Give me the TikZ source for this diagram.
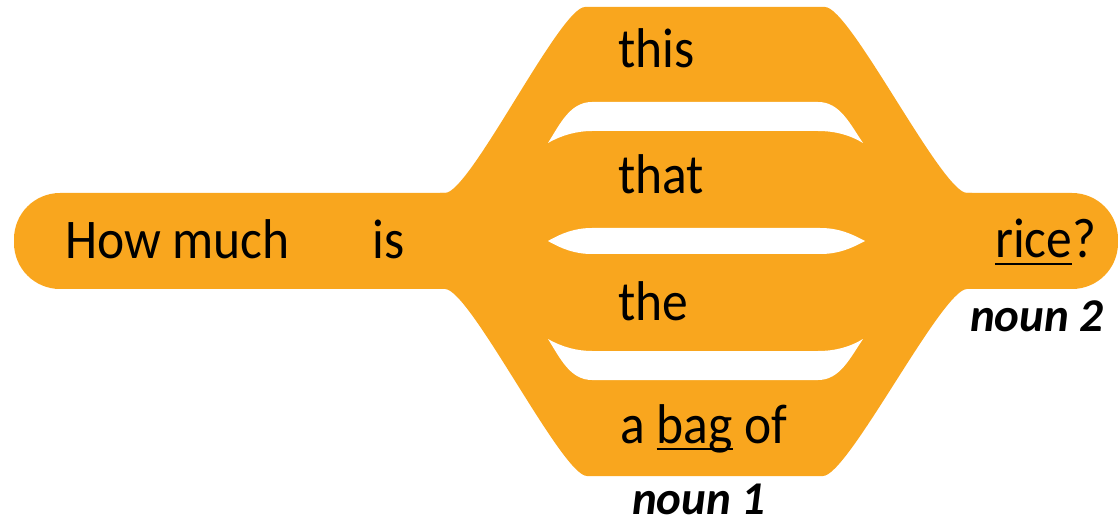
\documentclass[tikz,border=0pt]{standalone}
\usepackage{fontspec}
\setmainfont{Carlito}[FakeStretch=0.92]
\newfontfamily\lblfont{Carlito}
\definecolor{blob}{RGB}{249,166,30}
\newsavebox\ulbox
\newcommand\myul[1]{\sbox\ulbox{#1}\rlap{\rule[-7pt]{\wd\ulbox}{2.2pt}}\usebox\ulbox}
\tikzset{
  word/.style={anchor=base west, inner sep=0pt, font=\fontsize{56}{60}\selectfont},
  lbl/.style={anchor=base west, inner sep=0pt, font=\lblfont\fontsize{47}{50}\selectfont\bfseries\itshape},
  gap/.style={fill=white},
}
\begin{document}
\begin{tikzpicture}[x=1pt,y=-1pt]
\useasboundingbox (0,0) rectangle (1118,526);
% main bar
\fill[blob, rounded corners=46pt] (14,193) rectangle (1118,289);
% fan
\fill[blob] (440,193) -- (445,193) .. controls (470,193) and (560,7) .. (585,7)
  -- (825,7) .. controls (850,7) and (942,193) .. (967,193) -- (972,193)
  -- (972,289) -- (967,289) .. controls (942,289) and (848,476) .. (823,476)
  -- (587,476) .. controls (562,476) and (470,289) .. (445,289) -- (440,289) -- cycle;
% gaps
\fill[gap] (548,143) .. controls (560,124) and (570,102) .. (592,102) -- (818,102)
  .. controls (840,102) and (850,124) .. (863,143) .. controls (850,135) and (835,131) .. (818,131)
  -- (592,131) .. controls (577,131) and (562,135) .. (548,143) -- cycle;
\fill[gap] (548,241) .. controls (562,233) and (575,228) .. (592,228) -- (820,228)
  .. controls (838,228) and (850,233) .. (865,241) .. controls (850,249) and (838,254) .. (820,254)
  -- (592,254) .. controls (575,254) and (562,249) .. (548,241) -- cycle;
\fill[gap] (548,339) .. controls (560,358) and (570,380) .. (592,380) -- (818,380)
  .. controls (840,380) and (850,358) .. (863,339) .. controls (850,347) and (835,351) .. (818,351)
  -- (592,351) .. controls (577,351) and (562,347) .. (548,339) -- cycle;
% words
\node[word] (how) at (65,259) {How much};
\node[word] (is) at (372,259) {is};
\node[word] (this) at (618,68) {this};
\node[word] (that) at (618,194) {that};
\node[word] (the) at (618,320) {the};
\node[word] (abag) at (620,443) {a \myul{bag} of};
\node[word] (rice) at (995,258) {\myul{rice}?};
\node[lbl] (n2) at (970,331) {noun 2};
\node[lbl] (n1) at (632,514) {noun 1};
\end{tikzpicture}
\end{document}
